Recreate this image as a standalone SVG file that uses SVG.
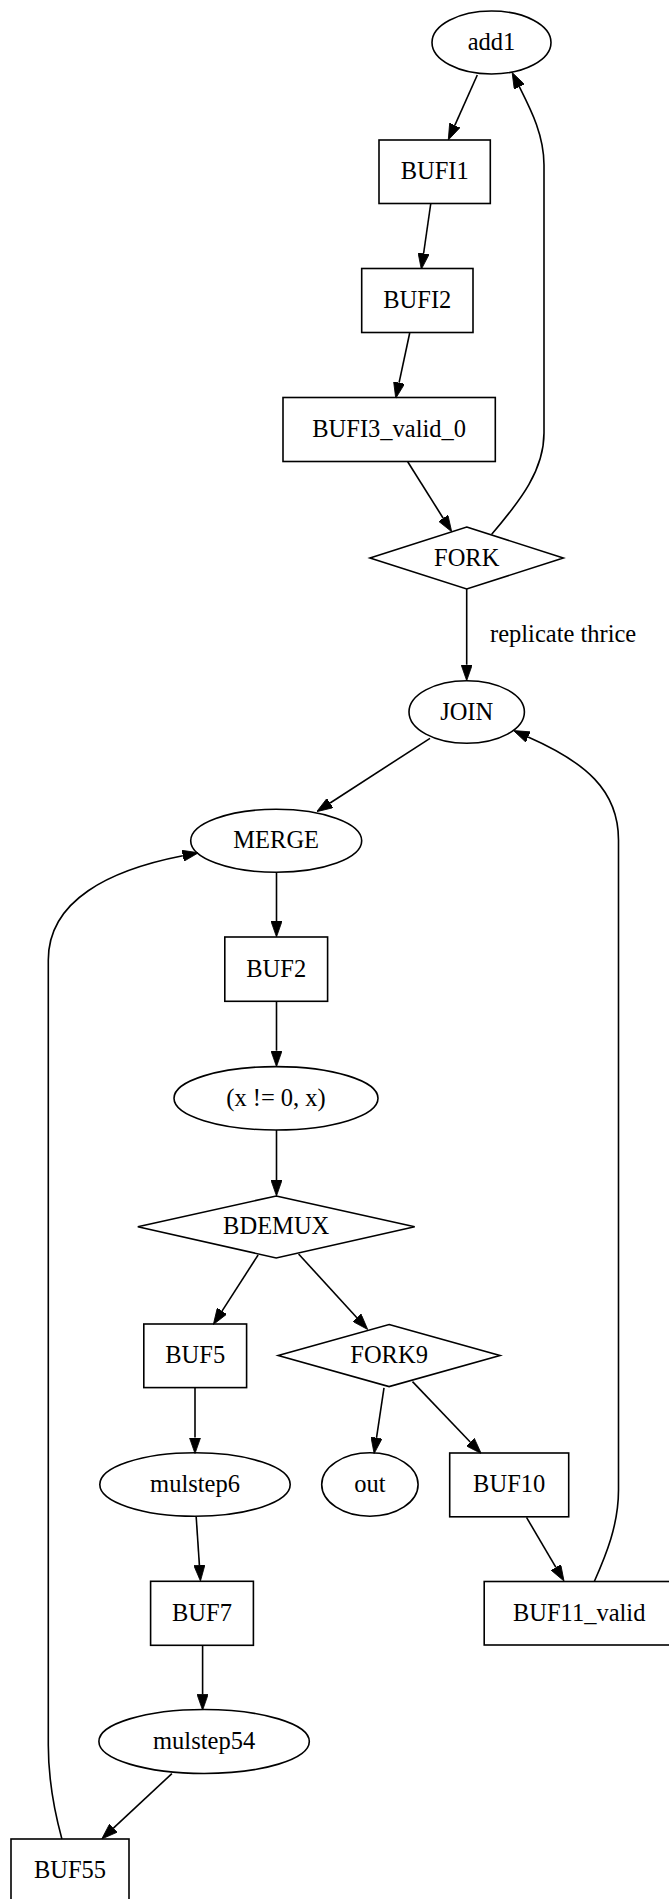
<svg xmlns="http://www.w3.org/2000/svg" width="669" height="1899" viewBox="0 0 669 1899">
<style>
.n{fill:none;stroke:#000;stroke-width:1.6}
.t{font-family:"Liberation Serif","Times New Roman",serif;font-size:24.5px;fill:#000;text-anchor:middle}
.e{fill:none;stroke:#000;stroke-width:1.6}
</style>
<defs>
<marker id="ah" viewBox="0 0 10 7" refX="0" refY="3.5" markerWidth="16" markerHeight="11.2" markerUnits="userSpaceOnUse" orient="auto">
<path d="M0,0 L10,3.5 L0,7 z" fill="#000" stroke="#000" stroke-width="0.5"/>
</marker>
</defs>
<rect width="669" height="1899" fill="#fff"/>
<g id="connectors">
<path class="e" marker-end="url(#ah)" d="M477.3,75 L454.8,125.4"/>
<path class="e" marker-end="url(#ah)" d="M430.7,204 L423.6,253.5"/>
<path class="e" marker-end="url(#ah)" d="M409.7,333 L399.1,382.7"/>
<path class="e" marker-end="url(#ah)" d="M407.7,461.7 L443.2,518.2"/>
<path class="e" marker-end="url(#ah)" d="M466.7,589 L466.7,664.7"/>
<path class="e" marker-end="url(#ah)" d="M430,738.3 L330.1,803"/>
<path class="e" marker-end="url(#ah)" d="M276.5,872.3 L276.5,921"/>
<path class="e" marker-end="url(#ah)" d="M276.5,1001.3 L276.5,1050.7"/>
<path class="e" marker-end="url(#ah)" d="M276.5,1130 L276.5,1180"/>
<path class="e" marker-end="url(#ah)" d="M258.1,1255 L222,1311.1"/>
<path class="e" marker-end="url(#ah)" d="M298.6,1254 L356.9,1317.7"/>
<path class="e" marker-end="url(#ah)" d="M195,1387.4 L195,1437.6"/>
<path class="e" marker-end="url(#ah)" d="M384,1387.8 L376.5,1437.8"/>
<path class="e" marker-end="url(#ah)" d="M412.5,1381.6 L470.2,1442"/>
<path class="e" marker-end="url(#ah)" d="M526.5,1517.4 L555.9,1567.3"/>
<path class="e" marker-end="url(#ah)" d="M196.2,1517 L199.4,1565.1"/>
<path class="e" marker-end="url(#ah)" d="M202.6,1645.3 L202.6,1694.3"/>
<path class="e" marker-end="url(#ah)" d="M171.9,1773.6 L113.4,1828.1"/>
<path class="e" marker-end="url(#ah)" d="M491.7,534.3 C521,500 544,470 544,433 L544,165 C544,135 531,110 519.3,86.7"/>
<path class="e" marker-end="url(#ah)" d="M594.3,1581.5 C606,1555 618.5,1525 618.5,1490 L618.5,840 C618.5,790 585,762 528.1,737"/>
<path class="e" marker-end="url(#ah)" d="M61.9,1839 C54,1810 48.3,1780 48.3,1745 L48.3,960 C48.3,900 110,870 182.8,855.8"/>
<text class="t" x="490" y="641.7" style="text-anchor:start">replicate thrice</text>
</g>
<g id="add1"><ellipse class="n" cx="491.5" cy="42.5" rx="59.5" ry="31.5"/><text class="t" x="491.5" y="50">add1</text></g>
<g id="BUFI1"><rect class="n" x="379" y="140" width="111.3" height="63.5"/><text class="t" x="434.7" y="179">BUFI1</text></g>
<g id="BUFI2"><rect class="n" x="361.7" y="268.5" width="111.3" height="64"/><text class="t" x="417.3" y="308">BUFI2</text></g>
<g id="BUFI3_valid_0"><rect class="n" x="283" y="397.5" width="212.3" height="64"/><text class="t" x="389.2" y="437">BUFI3_valid_0</text></g>
<g id="FORK"><polygon class="n" points="466.7,527 563.3,558 466.7,589 370,558"/><text class="t" x="466.7" y="565.5">FORK</text></g>
<g id="JOIN"><ellipse class="n" cx="466.7" cy="712" rx="57.7" ry="31.3"/><text class="t" x="466.7" y="719.5">JOIN</text></g>
<g id="MERGE"><ellipse class="n" cx="276.2" cy="840.8" rx="85.5" ry="31.5"/><text class="t" x="276.2" y="848.3">MERGE</text></g>
<g id="BUF2"><rect class="n" x="224.8" y="937" width="102.8" height="64.3"/><text class="t" x="276.2" y="976.5">BUF2</text></g>
<g id="cond"><ellipse class="n" cx="276" cy="1098.3" rx="102" ry="31.7"/><text class="t" x="276" y="1105.8">(x != 0, x)</text></g>
<g id="BDEMUX"><polygon class="n" points="276.2,1196 414.7,1226.7 276.2,1258 137.8,1226.7"/><text class="t" x="276.2" y="1234.2">BDEMUX</text></g>
<g id="BUF5"><rect class="n" x="143.8" y="1324" width="102.8" height="63.6"/><text class="t" x="195.2" y="1363.3">BUF5</text></g>
<g id="FORK9"><polygon class="n" points="389.1,1324.5 500,1355.5 389.1,1386.6 278.2,1355.5"/><text class="t" x="389.1" y="1363">FORK9</text></g>
<g id="mulstep6"><ellipse class="n" cx="195" cy="1484.5" rx="95.2" ry="31.7"/><text class="t" x="195" y="1492">mulstep6</text></g>
<g id="out"><ellipse class="n" cx="369.9" cy="1484.5" rx="48.2" ry="31.7"/><text class="t" x="369.9" y="1492">out</text></g>
<g id="BUF10"><rect class="n" x="449.7" y="1453" width="119" height="63.8"/><text class="t" x="509.2" y="1492">BUF10</text></g>
<g id="BUF11_valid"><rect class="n" x="484.2" y="1581.5" width="190" height="63.5"/><text class="t" x="579.2" y="1620.5">BUF11_valid</text></g>
<g id="BUF7"><rect class="n" x="150.6" y="1581.3" width="102.8" height="64"/><text class="t" x="202" y="1620.5">BUF7</text></g>
<g id="mulstep54"><ellipse class="n" cx="204.1" cy="1741.5" rx="105.2" ry="32"/><text class="t" x="204.1" y="1749">mulstep54</text></g>
<g id="BUF55"><rect class="n" x="11" y="1839" width="118" height="64"/><text class="t" x="70" y="1878">BUF55</text></g>
</svg>
